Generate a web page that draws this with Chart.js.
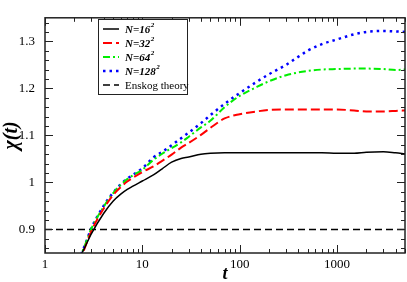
<!DOCTYPE html>
<html>
<head>
<meta charset="utf-8">
<script src="https://cdn.jsdelivr.net/npm/chart.js@4.4.0/dist/chart.umd.min.js"></script>
<style>
    html, body { margin: 0; padding: 0; background: #fff; }
    #chiChart { display: block; }
</style>
</head>
<body>
<canvas id="chiChart" width="407" height="282"></canvas>
<script>
// chi(t) curves for different system sizes
const times = [2.2, 2.5, 3, 4, 5, 6, 7, 8, 10, 13, 16, 20, 25, 30, 40, 50, 70, 100, 150, 200, 300, 500, 700, 1000, 1500, 2000, 3000, 4000, 5000];
const chi16  = [0.835, 0.857, 0.891, 0.934, 0.960, 0.975, 0.985, 0.992, 1.003, 1.016, 1.029, 1.043, 1.051, 1.054, 1.060, 1.062, 1.063, 1.063, 1.063, 1.063, 1.063, 1.063, 1.063, 1.062, 1.062, 1.064, 1.065, 1.063, 1.061];
const chi32  = [0.830, 0.855, 0.897, 0.944, 0.973, 0.990, 1.002, 1.010, 1.022, 1.034, 1.046, 1.059, 1.074, 1.084, 1.101, 1.116, 1.136, 1.145, 1.151, 1.154, 1.155, 1.155, 1.155, 1.155, 1.153, 1.151, 1.151, 1.152, 1.153];
const chi64  = [0.835, 0.860, 0.902, 0.948, 0.977, 0.995, 1.007, 1.015, 1.027, 1.048, 1.061, 1.073, 1.085, 1.097, 1.117, 1.131, 1.160, 1.184, 1.203, 1.215, 1.228, 1.237, 1.240, 1.241, 1.242, 1.242, 1.241, 1.239, 1.240];
const chi128 = [0.835, 0.860, 0.903, 0.950, 0.978, 0.996, 1.008, 1.016, 1.030, 1.053, 1.065, 1.079, 1.094, 1.106, 1.126, 1.143, 1.167, 1.190, 1.214, 1.230, 1.250, 1.280, 1.294, 1.304, 1.315, 1.320, 1.322, 1.321, 1.320];
const enskogTimes = [1, 5000];
const enskogValues = [0.9, 0.9];

const seriesLabels = ['N=16', 'N=32', 'N=64', 'N=128'];
const enskogLabel = 'Enskog theory';
const xTickValues = [1, 10, 100, 1000];
const yTickValues = [0.9, 1, 1.1, 1.2, 1.3];

const serif = "'Liberation Serif', 'DejaVu Serif', serif";

function toPoints(xs, ys) {
    return xs.map((x, i) => ({ x: x, y: ys[i] }));
}

const styles = [
    { color: '#000000', width: 1.5, dash: [] },
    { color: '#ff0000', width: 2, dash: [9, 4] },
    { color: '#00ee00', width: 2, dash: [7, 3, 2, 3] },
    { color: '#0000ff', width: 2.5, dash: [2.5, 4] }
];
const enskogStyle = { color: '#000000', width: 1.5, dash: [7, 4] };

const datasets = [chi16, chi32, chi64, chi128].map((vals, i) => ({
    label: seriesLabels[i],
    data: toPoints(times, vals),
    borderColor: styles[i].color,
    borderWidth: styles[i].width,
    borderDash: styles[i].dash,
    pointRadius: 0,
    cubicInterpolationMode: 'monotone',
    fill: false,
    clip: 0
}));
datasets.push({
    label: enskogLabel,
    data: toPoints(enskogTimes, enskogValues),
    borderColor: enskogStyle.color,
    borderWidth: enskogStyle.width,
    borderDash: enskogStyle.dash,
    pointRadius: 0,
    fill: false,
    clip: 0
});

// Frame with inward ticks (major + minor) on all four sides
const frameTicks = {
    id: 'frameTicks',
    afterDatasetsDraw(chart) {
        const ctx = chart.ctx;
        const a = chart.chartArea;
        const xs = chart.scales.x;
        const ys = chart.scales.y;
        ctx.save();
        ctx.strokeStyle = '#222';
        ctx.lineWidth = 1;
        ctx.beginPath();
        for (let d = 0; d <= 3; d++) {
            for (let k = 1; k <= 9; k++) {
                const v = k * Math.pow(10, d);
                if (v > 5000) continue;
                const px = Math.round(xs.getPixelForValue(v)) + 0.5;
                const len = k === 1 ? 8 : 4;
                ctx.moveTo(px, a.bottom); ctx.lineTo(px, a.bottom - len);
                ctx.moveTo(px, a.top); ctx.lineTo(px, a.top + len);
            }
        }
        for (let i = 43; i <= 67; i++) {
            const v = i * 0.02;
            const py = Math.round(ys.getPixelForValue(v)) + 0.5;
            const len = i % 5 === 0 ? 8 : 4;
            ctx.moveTo(a.left, py); ctx.lineTo(a.left + len, py);
            ctx.moveTo(a.right, py); ctx.lineTo(a.right - len, py);
        }
        ctx.stroke();
        ctx.lineWidth = 1.5;
        ctx.strokeRect(a.left, a.top, a.right - a.left, a.bottom - a.top);
        ctx.restore();
    }
};

// Boxed legend inside the plot area
const boxLegend = {
    id: 'boxLegend',
    afterDraw(chart) {
        const ctx = chart.ctx;
        const left = 98, top = 19, w = 89, h = 75;
        ctx.save();
        ctx.fillStyle = '#fff';
        ctx.fillRect(left, top, w, h);
        ctx.strokeStyle = '#222';
        ctx.lineWidth = 1;
        ctx.strokeRect(left + 0.5, top + 0.5, w, h);
        const all = styles.concat([enskogStyle]);
        all.forEach((s, i) => {
            const y = top + 10 + i * 14;
            ctx.strokeStyle = s.color;
            ctx.lineWidth = s.width;
            ctx.setLineDash(s.dash);
            ctx.beginPath();
            ctx.moveTo(103, y);
            ctx.lineTo(119, y);
            ctx.stroke();
            ctx.setLineDash([]);
            ctx.fillStyle = '#000';
            ctx.textBaseline = 'middle';
            ctx.textAlign = 'left';
            if (i < seriesLabels.length) {
                ctx.font = 'italic bold 11px ' + serif;
                ctx.fillText(seriesLabels[i], 125, y + 1);
                const tw = ctx.measureText(seriesLabels[i]).width;
                ctx.font = 'italic bold 7px ' + serif;
                ctx.fillText('2', 125 + tw + 0.5, y - 4);
            } else {
                ctx.font = '11px ' + serif;
                ctx.fillText(enskogLabel, 125, y + 1);
            }
        });
        ctx.restore();
    }
};

new Chart(document.getElementById('chiChart'), {
    type: 'line',
    data: { datasets: datasets },
    options: {
        responsive: false,
        animation: false,
        layout: { padding: { top: 1, right: 2, left: 0, bottom: 0 } },
        plugins: {
            legend: { display: false },
            tooltip: { enabled: false }
        },
        scales: {
            x: {
                type: 'logarithmic',
                min: 1,
                max: 5000,
                afterBuildTicks: (scale) => {
                    scale.ticks = xTickValues.map(v => ({ value: v }));
                },
                afterFit: (scale) => { scale.height = 29; },
                grid: { display: false, drawTicks: false },
                border: { display: false },
                ticks: {
                    color: '#000',
                    font: { family: serif, size: 13 },
                    padding: 4,
                    maxRotation: 0,
                    autoSkip: false,
                    callback: (v) => String(v)
                },
                title: {
                    display: true,
                    text: 't',
                    color: '#000',
                    font: { family: serif, size: 18, style: 'italic', weight: 'bold', lineHeight: 0.8 },
                    padding: { top: 0, bottom: 0 }
                }
            },
            y: {
                type: 'linear',
                min: 0.85,
                max: 1.35,
                afterBuildTicks: (scale) => {
                    scale.ticks = yTickValues.map(v => ({ value: v }));
                },
                afterFit: (scale) => { scale.width = 45; },
                grid: { display: false, drawTicks: false },
                border: { display: false },
                ticks: {
                    color: '#000',
                    font: { family: serif, size: 13 },
                    padding: 10,
                    callback: (v) => String(Math.round(v * 10) / 10)
                },
                title: {
                    display: true,
                    text: 'χ(t)',
                    color: '#000',
                    font: { family: serif, size: 20, style: 'italic', weight: 'bold' },
                    padding: { top: 0, bottom: 0 }
                }
            }
        }
    },
    plugins: [frameTicks, boxLegend]
});
</script>
</body>
</html>
